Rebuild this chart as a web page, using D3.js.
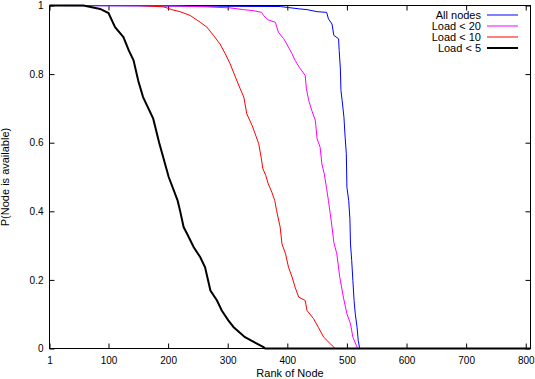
<!DOCTYPE html>
<html>
<head>
<meta charset="utf-8">
<script src="https://cdn.jsdelivr.net/npm/d3@7/dist/d3.min.js"></script>
<style>
  html, body { margin: 0; padding: 0; background: #fff; }
  svg { display: block; }
  text { font-family: "Liberation Sans", Arial, Helvetica, sans-serif; fill: #000; }
</style>
</head>
<body>
<svg id="chart" width="535" height="379"></svg>
<script>
// ---- Data ----
const seriesNames = ["All nodes", "Load < 20", "Load < 10", "Load < 5"];

const ranksAll = [1,388,402,421,433,450,466,469,475,478,486,487,489,490,492,495,497,499,500,503,505,506,508,510,512,514,517,519,521,522,807];
const valsAll  = [1,0.997,0.994,0.99,0.988,0.982,0.98,0.961,0.946,0.913,0.903,0.869,0.815,0.752,0.723,0.674,0.616,0.568,0.47,0.431,0.378,0.305,0.257,0.198,0.14,0.101,0.062,0.023,0.004,0,0];

const ranks20 = [1,209,265,304,326,343,357,360,368,380,385,394,399,408,413,420,430,432,436,441,447,450,455,458,462,466,469,472,475,478,483,488,494,500,506,510,517,519,807];
const vals20  = [1,0.999,0.996,0.993,0.988,0.985,0.98,0.971,0.958,0.951,0.922,0.903,0.888,0.859,0.84,0.82,0.796,0.757,0.723,0.694,0.665,0.611,0.587,0.538,0.509,0.466,0.431,0.393,0.354,0.31,0.276,0.208,0.15,0.101,0.072,0.033,0.004,0,0];

const ranks10 = [1,150,192,198,206,220,237,254,265,276,287,296,304,313,321,327,332,341,346,352,356,359,364,368,374,379,382,388,391,397,402,408,413,419,430,433,444,452,461,472,478,480,807];
const vals10  = [1,1,0.996,0.993,0.988,0.982,0.971,0.951,0.937,0.913,0.888,0.859,0.83,0.791,0.757,0.733,0.684,0.65,0.626,0.597,0.558,0.524,0.504,0.48,0.456,0.431,0.402,0.354,0.305,0.276,0.237,0.208,0.179,0.15,0.14,0.111,0.087,0.062,0.033,0.014,0.004,0,0];

const ranks5 = [1,58,86,100,111,125,134,142,150,158,175,185,201,216,220,226,232,243,254,262,271,282,290,301,310,329,349,360,363,807];
const vals5  = [1,1,0.99,0.978,0.937,0.908,0.869,0.84,0.78,0.733,0.67,0.6,0.5,0.431,0.402,0.354,0.334,0.295,0.266,0.237,0.169,0.14,0.111,0.082,0.062,0.033,0.014,0.004,0,0];

const xTicks = [1,100,200,300,400,500,600,700,800];
const yTicks = [0,0.2,0.4,0.6,0.8,1];
const yTickLabels = ["0","0.2","0.4","0.6","0.8","1"];

const colors = ["#0000ff", "#ff00ff", "#ff0000", "#000000"];
const widths = [1, 1, 1, 2];

// ---- Layout ----
const svg = d3.select("#chart");
const L = 49.5, R = 530.5, T = 5.5, B = 348.5;
const x = d3.scaleLinear().domain([1, 808]).range([L, R]);
const y = d3.scaleLinear().domain([0, 1]).range([B, T]);

const tl = 5;
// bottom axis
const gx = svg.append("g").attr("transform", `translate(0,${B})`)
  .call(d3.axisBottom(x).tickValues(xTicks).tickSizeInner(-tl).tickSizeOuter(0).tickFormat(d3.format("d")));
gx.select(".domain").remove();
gx.selectAll("text").attr("y", 8).attr("dy", "0.71em");
// top mirror
const gt = svg.append("g").attr("transform", `translate(0,${T})`)
  .call(d3.axisTop(x).tickValues(xTicks).tickSizeInner(-tl).tickSizeOuter(0).tickFormat(""));
gt.select(".domain").remove();
// left axis
const gy = svg.append("g").attr("transform", `translate(${L},0)`)
  .call(d3.axisLeft(y).tickValues(yTicks).tickSizeInner(-tl).tickSizeOuter(0).tickFormat((d,i) => yTickLabels[i]));
gy.select(".domain").remove();
gy.selectAll("text").attr("x", -6);
// right mirror
const gr = svg.append("g").attr("transform", `translate(${R},0)`)
  .call(d3.axisRight(y).tickValues(yTicks).tickSizeInner(-tl).tickSizeOuter(0).tickFormat(""));
gr.select(".domain").remove();

svg.selectAll(".tick text").style("font-family", '"Liberation Sans", Arial, sans-serif').style("font-size", "10px");
svg.selectAll(".tick line").attr("stroke", "#000");

// frame
svg.append("rect").attr("x", L).attr("y", T).attr("width", R - L).attr("height", B - T)
  .attr("fill", "none").attr("stroke", "#000").attr("stroke-width", 1);

// ---- Curves ----
const allSeries = [
  ranksAll.map((r,i) => [r, valsAll[i]]),
  ranks20.map((r,i) => [r, vals20[i]]),
  ranks10.map((r,i) => [r, vals10[i]]),
  ranks5.map((r,i) => [r, vals5[i]])
];
const line = d3.line().x(d => x(d[0])).y(d => y(d[1])).curve(d3.curveLinear);
svg.append("g").selectAll("path").data(allSeries).join("path")
  .attr("d", line)
  .attr("fill", "none")
  .attr("stroke", (d,i) => colors[i])
  .attr("stroke-width", (d,i) => widths[i]);

// ---- Legend ----
const leg = svg.append("g");
seriesNames.forEach((name, i) => {
  const ly = 15 + i * 11;
  leg.append("text").attr("x", 481).attr("y", ly).attr("dy", "0.35em")
    .attr("text-anchor", "end").style("font-size", "11px").text(name);
  leg.append("line").attr("x1", 487).attr("x2", 518).attr("y1", ly).attr("y2", ly)
    .attr("stroke", colors[i]).attr("stroke-width", widths[i]);
});

// ---- Axis titles ----
svg.append("text").attr("x", (L + R) / 2).attr("y", 377).attr("text-anchor", "middle")
  .style("font-size", "11px").text("Rank of Node");
svg.append("text").attr("transform", `translate(9,${(T + B) / 2}) rotate(-90)`)
  .attr("text-anchor", "middle").style("font-size", "11px").text("P(Node is available)");
</script>
</body>
</html>
